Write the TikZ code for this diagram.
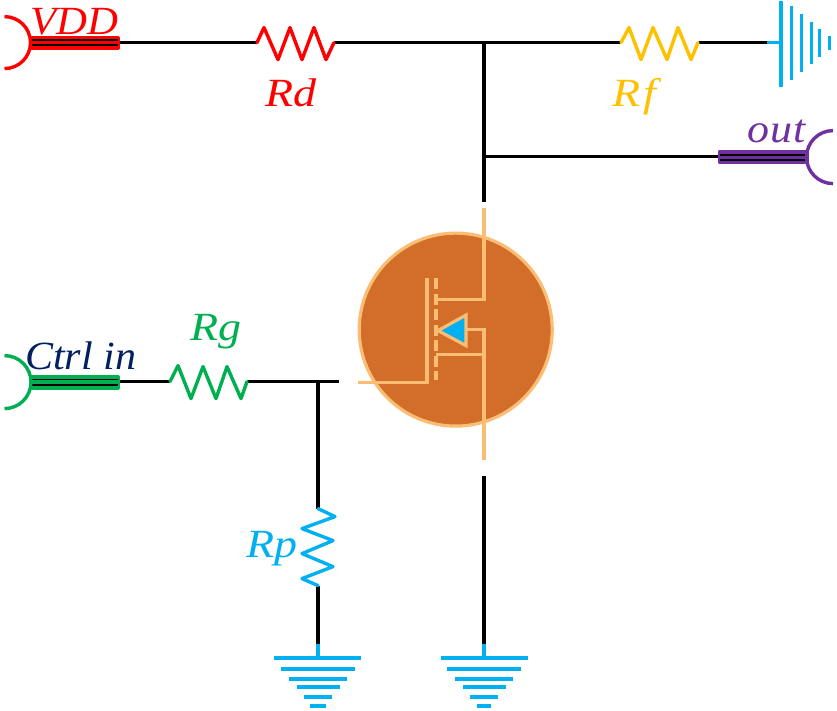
\documentclass[tikz,border=0pt]{standalone}
\usepackage{fontspec}
\setmainfont{Liberation Serif}
\definecolor{cred}{HTML}{FF0000}
\definecolor{cgreen}{HTML}{00B050}
\definecolor{cblue}{HTML}{00B0F0}
\definecolor{cyellow}{HTML}{FFC000}
\definecolor{cpurple}{HTML}{7030A0}
\definecolor{cnavy}{HTML}{002060}
\definecolor{cbody}{HTML}{D26D2A}
\definecolor{cpale}{HTML}{FBBC74}
\tikzset{
  wire/.style={black,line width=3.4pt},
  thin wire/.style={black,line width=2pt},
  resistor/.style={line width=3.4pt,line join=round,line cap=round},
  plate/.style={cblue,line width=3.8pt},
  mos/.style={cpale,line width=3.2pt,line join=miter},
  lab/.style={inner sep=0pt,anchor=base west,font=\itshape\fontsize{40}{40}\selectfont},
  portbox/.style={line width=3.6pt,line join=round},
}
\begin{document}
\begin{tikzpicture}[x=1pt,y=-1pt]
\useasboundingbox (0,0) rectangle (837,711);
\begin{scope}[yshift=-0.6pt]
% named terminals
\coordinate (vddT) at (118,42);
\coordinate (rdA) at (257,42);
\coordinate (rdB) at (334,42);
\coordinate (top) at (484,42);
\coordinate (rfA) at (621,42);
\coordinate (rfB) at (698,42);
\coordinate (batT) at (767,42);
\coordinate (batP) at (781,42);
\coordinate (tap) at (484,156);
\coordinate (outT) at (719,156);
\coordinate (drainStub) at (484,201);
\coordinate (ctrlT) at (118,381);
\coordinate (rgA) at (170,381);
\coordinate (rgB) at (247,381);
\coordinate (gateJ) at (318,381);
\coordinate (gateStub) at (339,381);
\coordinate (rpA) at (318,508);
\coordinate (rpB) at (318,585);
\coordinate (gndAT) at (318,643);
\coordinate (gndAP) at (318,657);
\coordinate (srcStub) at (484,475);
\coordinate (gndBT) at (484,643);
\coordinate (gndBP) at (484,657);
% wires
\draw[wire] (vddT) -- (rdA);
\draw[wire] (rdB) -- (rfA);
\draw[wire] (rfB) -- (batT);
\draw[wire] (top) -- (drainStub);
\draw[wire] (tap) -- (outT);
\draw[wire] (ctrlT) -- (rgA);
\draw[wire] (rgB) -- (gateStub);
\draw[wire] (gateJ) -- (rpA);
\draw[wire] (rpB) -- (gndAT);
\draw[wire] (srcStub) -- (gndBT);
% resistors
\draw[resistor,cred] (rdA) -- (264,27) -- (278,59) -- (290,27) -- (302,59) -- (314,27) -- (326,59) -- (rdB);
\draw[resistor,cyellow] (rfA) -- (629,27) -- (641,59) -- (653,27) -- (667,59) -- (678,27) -- (691,59) -- (rfB);
\draw[resistor,cgreen] (rgA) -- (178,365) -- (191,398) -- (203,366) -- (216,398) -- (227,366) -- (241,398) -- (rgB);
\draw[resistor,cblue] (rpA) -- (335,516) -- (302,528) -- (333,540) -- (302,553) -- (333,566) -- (302,578) -- (rpB);
% VDD port
\draw[portbox,cred,fill=cred] (31.5,37.5) rectangle (118,47.5);
\draw[thin wire] (31,39.8) -- (118,39.8);
\draw[thin wire] (31,44.8) -- (118,44.8);
\draw[cred,line width=3.4pt] (4.5,16) arc[start angle=-90,end angle=90,radius=26];
% Ctrl port
\draw[portbox,cgreen,fill=cgreen] (31.5,376.5) rectangle (118,387.5);
\draw[black,line width=1.2pt] (31,379) -- (118,379);
\draw[thin wire] (31,384.3) -- (118,384.3);
\draw[cgreen,line width=3.4pt] (4.5,355) arc[start angle=-90,end angle=90,radius=26.5];
% out port
\draw[portbox,cpurple,fill=cpurple] (720,151) rectangle (807,162);
\draw[thin wire] (720,154) -- (807,154);
\draw[thin wire] (720,159) -- (807,159);
\draw[cpurple,line width=3.4pt] (833,130) arc[start angle=-90,end angle=-270,radius=26.5];
% battery symbol
\draw[cblue,line width=3.4pt] (batT) -- (batP);
\draw[plate] (781,0) -- (781,86);
\draw[plate] (791.5,5) -- (791.5,79);
\draw[plate] (801.5,13) -- (801.5,71);
\draw[plate] (811.5,21) -- (811.5,63);
\draw[plate] (819.5,28) -- (819.5,56);
\draw[plate] (829.5,35) -- (829.5,49);
% grounds
\draw[cblue,line width=3.4pt] (gndAT) -- (gndAP);
\draw[plate] (274,657) -- (361,657);
\draw[plate] (281,668) -- (355,668);
\draw[plate] (289,678) -- (347,678);
\draw[plate] (297,686) -- (340,686);
\draw[plate] (304,696) -- (332,696);
\draw[plate] (310,705) -- (326,705);
\draw[cblue,line width=3.4pt] (gndBT) -- (gndBP);
\draw[plate] (441,657) -- (528,657);
\draw[plate] (447,668) -- (521,668);
\draw[plate] (455,678) -- (513,678);
\draw[plate] (463,686) -- (506,686);
\draw[plate] (470,696) -- (498,696);
\draw[plate] (477,705) -- (491,705);
% MOSFET
\node (body) [circle,draw=cpale,fill=cbody,line width=3.2pt,minimum size=193pt,inner sep=0pt] at (455.7,329) {};
\draw[mos] (484,207) -- (484,299) -- (436,299);
\draw[mos] (427,277) -- (427,382) -- (358,382);
\draw[mos,dash pattern=on 11pt off 4.5pt] (436,277.5) -- (436,379);
\draw[mos] (436,354) -- (484,354);
\draw[mos] (466,329) -- (484,329) -- (484,459);
\draw[mos,fill=cblue] (438,330) -- (466,314.5) -- (466,345) -- cycle;
% labels
\node (lvdd) [lab,text=cred,xscale=1.07] at (30,34) {VDD};
\node (lrd) [lab,text=cred,xscale=1.15] at (265,106) {Rd};
\node (lrf) [lab,text=cyellow,xscale=1.15] at (612,106) {R\kern3pt f};
\node (lout) [lab,text=cpurple,xscale=1.1] at (747,142) {o\kern1pt u\kern1pt t};
\node (lctrl) [lab,text=cnavy,xscale=1.05] at (25,369) {Ctrl in};
\node (lrg) [lab,text=cgreen,xscale=1.15] at (190,340) {Rg};
\node (lrp) [lab,text=cblue,xscale=1.15] at (246,557) {Rp};
\end{scope}
\end{tikzpicture}
\end{document}
